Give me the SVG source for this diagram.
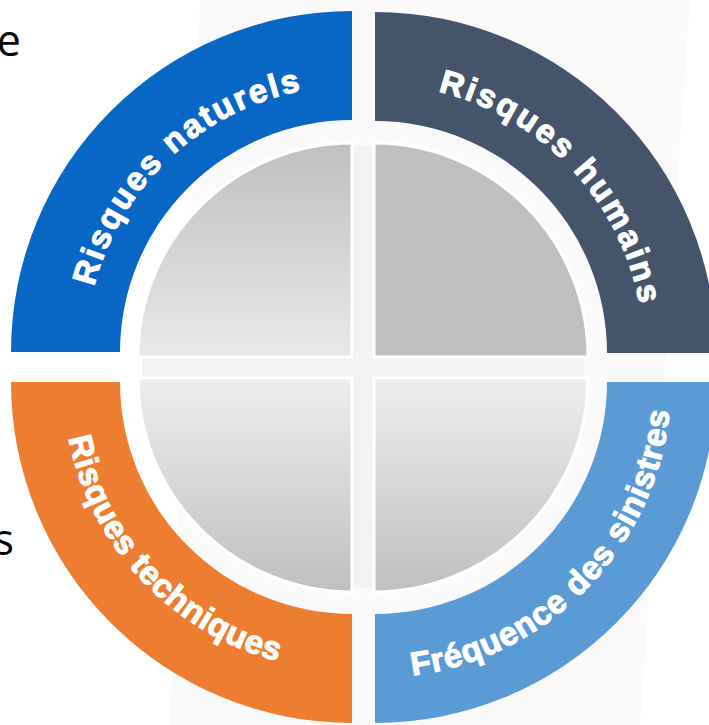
<svg xmlns="http://www.w3.org/2000/svg" width="709" height="725" viewBox="0 0 709 725">
<defs>
<style>
.lbl{font-family:"Liberation Sans",Arial,sans-serif;font-weight:bold;font-size:33px;fill:#fff;stroke:#fff;stroke-width:1.1px}
.side{font-family:"Open Sans","Noto Sans",sans-serif;font-size:43px;fill:#000}
.core{stroke:#fff;stroke-width:3}
</style>
<linearGradient id="gDown" x1="0" y1="0" x2="0" y2="1"><stop offset="0" stop-color="#bfbfbf"/><stop offset="1" stop-color="#e9e9e9"/></linearGradient>
<linearGradient id="gUp" x1="0" y1="0" x2="0" y2="1"><stop offset="0" stop-color="#eeeeee"/><stop offset="1" stop-color="#bfbfbf"/></linearGradient>
<path id="pTL" d="M 86,352 A 266 266 0 0 1 352,86"/>
<path id="pTR" d="M 375,84 A 269 269 0 0 1 644,353"/>
<path id="pBL" d="M 63,382 A 289 289 0 0 0 352,671"/>
<path id="pBR" d="M 375,678 A 296 296 0 0 0 671,382"/>
</defs>
<rect width="709" height="725" fill="#fff"/>
<polygon points="200,0 690,0 640,725 170,725" fill="#fbfafb"/>
<text class="side" x="21" y="56" text-anchor="end">e</text>
<text class="side" x="14" y="555" text-anchor="end">s</text>
<circle cx="363" cy="367" r="221" fill="#f4f2f3"/>
<g id="ring-naturels">
<path d="M 352,11 A 341 341 0 0 0 11,352 L 120,352 A 232 232 0 0 1 352,120 Z" fill="#0866c4"/>
<text class="lbl"><textPath href="#pTL" startOffset="52%" text-anchor="middle" letter-spacing="2.3">Risques naturels</textPath></text>
</g>
<g id="ring-humains">
<path d="M 375,12 A 341 341 0 0 1 716,353 L 607,353 A 232 232 0 0 0 375,121 Z" fill="#44546a"/>
<text class="lbl"><textPath href="#pTR" startOffset="52%" text-anchor="middle" letter-spacing="2.6">Risques humains</textPath></text>
</g>
<g id="ring-techniques">
<path d="M 11,382 A 341 341 0 0 0 352,723 L 352,614 A 232 232 0 0 1 120,382 Z" fill="#ed7d31"/>
<text class="lbl"><textPath href="#pBL" startOffset="48%" text-anchor="middle" letter-spacing="0.6">Risques techniques</textPath></text>
</g>
<g id="ring-frequence">
<path d="M 375,723 A 341 341 0 0 0 716,382 L 607,382 A 232 232 0 0 1 375,614 Z" fill="#5b9bd5"/>
<text class="lbl"><textPath href="#pBR" startOffset="51%" text-anchor="middle" letter-spacing="0.9">Fréquence des sinistres</textPath></text>
</g>
<g id="core-tl"><path class="core" d="M 352,357 L 138,357 A 214 214 0 0 1 352,143 Z" fill="url(#gDown)"/></g>
<g id="core-tr"><path class="core" d="M 374,357 L 374,143 A 214 214 0 0 1 588,357 Z" fill="#bfbfbf"/></g>
<g id="core-bl"><path class="core" d="M 352,378 L 352,592 A 214 214 0 0 1 138,378 Z" fill="url(#gUp)"/></g>
<g id="core-br"><path class="core" d="M 374,378 L 588,378 A 214 214 0 0 1 374,592 Z" fill="url(#gUp)"/></g>
<g id="connectors"/>
</svg>
